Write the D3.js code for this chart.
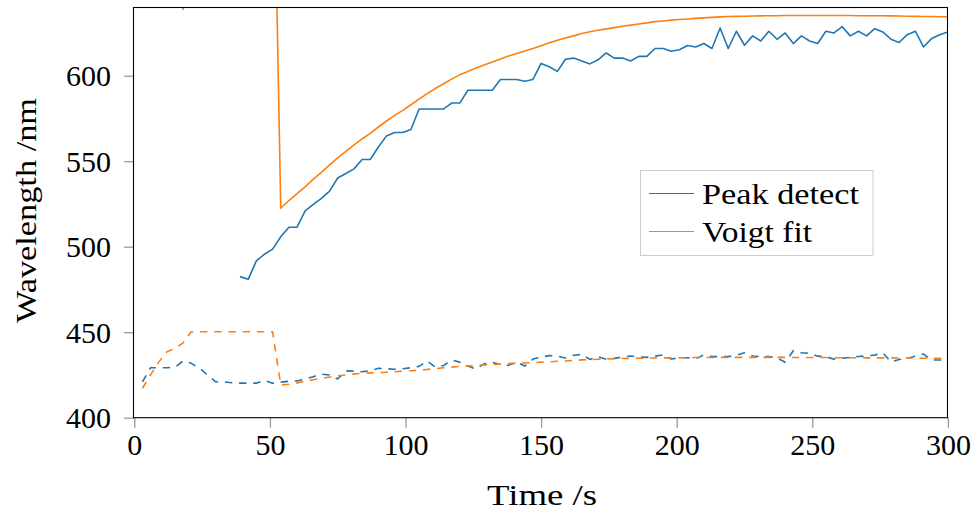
<!DOCTYPE html>
<html>
<head>
<meta charset="utf-8">
<script src="https://cdn.jsdelivr.net/npm/d3@7"></script>
<style>
  html, body { margin: 0; padding: 0; background: #fff; }
  svg { display: block; }
</style>
</head>
<body>
<svg id="chart" width="976" height="517"></svg>
<script>
// ---------- data ----------
const time = [3,6,9,12,15,18,21,24,27,30,33,36,39,42,45,48,51,54,57,60,63,66,69,72,75,78,81,84,87,90,93,96,99,
  102,105,108,111,114,117,120,123,126,129,132,135,138,141,144,147,150,153,156,159,162,165,168,171,174,177,180,
  183,186,189,192,195,198,201,204,207,210,213,216,219,222,225,228,231,234,237,240,243,246,249,252,255,258,261,
  264,267,270,273,276,279,282,285,288,291,294,297,300];

// Peak detect, main peak (solid blue) - no detection before t = 39 s
const peakMain = [null,null,null,null,null,null,null,null,null,null,null,null,
  482.5,480.9,491.7,495.6,498.6,505.8,511.4,511.4,521,524.7,528.3,532.5,540.2,542.8,545.5,551,551,558.3,564.8,566.8,566.8,
  568.5,580.5,580.5,580.5,580.5,584,584,591.5,591.5,591.5,591.5,597.8,597.8,597.8,596.8,597.8,607.2,605.2,602.5,609.6,610.3,608.6,606.9,609.3,613.3,610.3,610.3,
  608.6,611.3,611.3,615.9,615.9,614.3,615.2,617.7,616.8,618.8,615.9,627.9,615.9,626,617.8,623.3,620.3,626,621.3,625,618.8,623.3,620.3,618.8,626,625,628.7,
  623.3,626,623.3,627.5,625.6,621.3,619.4,624,626,616.8,621.7,624,625.6];

// Peak detect, second peak (dashed blue)
const peakSecond = [421,429.2,429.2,429.2,429.5,433.2,431.8,429,425,421,421,420.4,420.2,420.2,420.2,421.8,420.2,420.8,421.3,421.5,422.5,424,425.5,425,422.6,427.4,427.2,426.9,427.5,428.9,428.6,428.3,428.6,
  429.2,430,433.2,429.6,430.5,433.7,432.5,430.2,428.5,431.5,432.4,431,430.6,432.5,430.2,434.3,435.5,436.3,436,434.9,436.5,437,434.1,435.7,434.2,434.7,435.5,
  436.1,435.5,435.3,436,436.7,434.3,435,435.1,434.5,436.7,435.7,435.7,435.7,436.5,438,436.1,435.7,435.7,435,432.4,439.2,438,437.7,436,435.7,434.2,434.8,
  435.3,435.8,436.1,436.6,438,432.6,434,434.7,436,437.2,433.7,433.7,433.7];

// Voigt fit, main peak (solid orange) - far above the axis before t = 54 s
const voigtMain = [760,745,730,712,690,638.8,700,720,735,745,752,758,762,766,769,772,775,522.5,527,531,535,539.5,543.5,547.8,552,555.8,559.5,563,566.3,570,573.5,576.8,579.7,
  583,586.3,589.5,592.5,595.3,598,600.5,602.5,604.5,606.3,608,609.8,611.5,613,614.5,615.9,617.5,619.2,620.7,622,623.3,624.7,625.7,626.6,627.4,628.1,628.9,
  629.6,630.2,630.9,631.6,632,632.5,632.9,633.2,633.5,633.8,634.1,634.4,634.6,634.7,634.8,634.9,635,635.1,635.1,635.2,635.2,635.2,635.2,635.2,635.2,635.2,635.2,
  635.2,635.1,635.1,635.1,635.1,635,634.9,634.8,634.7,634.6,634.6,634.5,634.5];

// Voigt fit, second peak (dashed orange)
const voigtSecond = [417.2,425,432.5,438.5,440.5,443.8,450.3,450.3,450.3,450.3,450.3,450.3,450.3,450.3,450.3,450.3,450.3,419.1,419.6,420.3,421.3,422.2,423,423.8,424.5,425,425.5,426,426.2,426.4,426.6,426.9,427.2,
  427.5,427.8,428.2,428.7,429.2,429.6,430,430.2,430.5,430.8,431.1,431.4,431.6,431.8,432,432.2,432.5,432.7,433,433.2,433.5,433.8,434,434.2,434.4,434.5,434.6,
  434.7,434.8,434.9,434.9,435,435,435.1,435.1,435.2,435.2,435.2,435.3,435.3,435.3,435.3,435.3,435.3,435.3,435.3,435.3,435.2,435.2,435.2,435.2,435.2,435.1,435.1,
  435.1,435.1,435,435,435,435,434.9,434.9,434.9,434.8,434.8,434.8,434.8];

const xTicks = [0, 50, 100, 150, 200, 250, 300];
const yTicks = [400, 450, 500, 550, 600];
const seriesNames = ["Peak detect", "Voigt fit"];
const xLabel = "Time /s";
const yLabel = "Wavelength /nm";

// ---------- layout ----------
const FONT = '"Liberation Serif", "Times New Roman", serif';
const colors = { blue: "#1f77b4", orange: "#ff7f0e" };
const plotLeft = 134, plotRight = 947.5, plotTop = 7.5, plotBottom = 417.7;

const svg = d3.select("#chart");
const x = d3.scaleLinear().domain([0, 300]).range([plotLeft + 0.3, plotRight + 0.4]);
const y = d3.scaleLinear().domain([400, 640]).range([plotBottom, plotTop - 0.2]);

// clip
svg.append("defs").append("clipPath").attr("id", "plotclip")
  .append("rect").attr("x", plotLeft).attr("y", plotTop).attr("width", plotRight - plotLeft).attr("height", plotBottom - plotTop);

// axes (ticks outside, gray)
const xAxis = d3.axisBottom(x).tickValues(xTicks).tickSize(10).tickFormat(d3.format("d"));
const yAxis = d3.axisLeft(y).tickValues(yTicks).tickSize(10).tickFormat(d3.format("d"));

const gx = svg.append("g").attr("transform", `translate(0,${plotBottom})`).call(xAxis);
const gy = svg.append("g").attr("transform", `translate(${plotLeft},0)`).call(yAxis);
[gx, gy].forEach(g => {
  g.attr("font-family", null).attr("font-size", null);
  g.select(".domain").remove();
  g.selectAll(".tick line").attr("stroke", "#9a9a9a").attr("stroke-width", 1.3);
  g.selectAll(".tick text").style("font-family", FONT).style("font-size", "30px").attr("fill", "#000");
});
gx.selectAll(".tick text").attr("y", 0).attr("dy", null).attr("transform", "translate(0,37)");
gy.selectAll(".tick text").attr("x", -23).attr("dy", "0.34em");

// lines
const plot = svg.append("g").attr("clip-path", "url(#plotclip)");
function lineFor(values) {
  return d3.line()
    .defined((d, i) => values[i] !== null)
    .x((d, i) => x(time[i]))
    .y((d, i) => y(values[i]))(values);
}
const series = [
  { v: peakSecond, c: colors.blue, dash: "7.4,6.8" },
  { v: voigtSecond, c: colors.orange, dash: "7.4,6.8" },
  { v: peakMain, c: colors.blue, dash: null },
  { v: voigtMain, c: colors.orange, dash: null }
];
series.forEach(s => {
  plot.append("path")
    .attr("d", lineFor(s.v))
    .attr("fill", "none")
    .attr("stroke", s.c)
    .attr("stroke-width", 1.6)
    .attr("stroke-linejoin", "round")
    .attr("stroke-dasharray", s.dash);
});

// frame
svg.append("rect").attr("x", plotLeft - 0.5).attr("y", plotTop).attr("width", plotRight - plotLeft + 0.5).attr("height", plotBottom - plotTop)
  .attr("fill", "none").attr("stroke", "#000").attr("stroke-width", 1.1);

function label(sel) {
  return sel.style("font-family", FONT).style("font-size", "30px").attr("fill", "#000");
}

// axis labels
label(svg.append("text")).attr("x", 542).attr("y", 505).attr("text-anchor", "middle")
  .attr("textLength", 110).attr("lengthAdjust", "spacingAndGlyphs").text(xLabel);
label(svg.append("text")).attr("transform", "translate(36,210.5) rotate(-90)").attr("text-anchor", "middle")
  .attr("textLength", 225).attr("lengthAdjust", "spacingAndGlyphs").text(yLabel);

// legend
const lg = svg.append("g");
lg.append("rect").attr("x", 640.5).attr("y", 170.5).attr("width", 232.5).attr("height", 85)
  .attr("fill", "#fff").attr("stroke", "#cccccc").attr("stroke-width", 1);
const legendItems = [
  { name: seriesNames[0], c: colors.blue, y: 193.5, ty: 203.5, w: 157 },
  { name: seriesNames[1], c: colors.orange, y: 231.5, ty: 241.5, w: 110 }
];
legendItems.forEach(it => {
  lg.append("line").attr("x1", 649).attr("x2", 694).attr("y1", it.y).attr("y2", it.y)
    .attr("stroke", it.c).attr("stroke-width", 1.1);
  label(lg.append("text")).attr("x", 702).attr("y", it.ty)
    .attr("textLength", it.w).attr("lengthAdjust", "spacingAndGlyphs").text(it.name);
});
</script>
</body>
</html>
